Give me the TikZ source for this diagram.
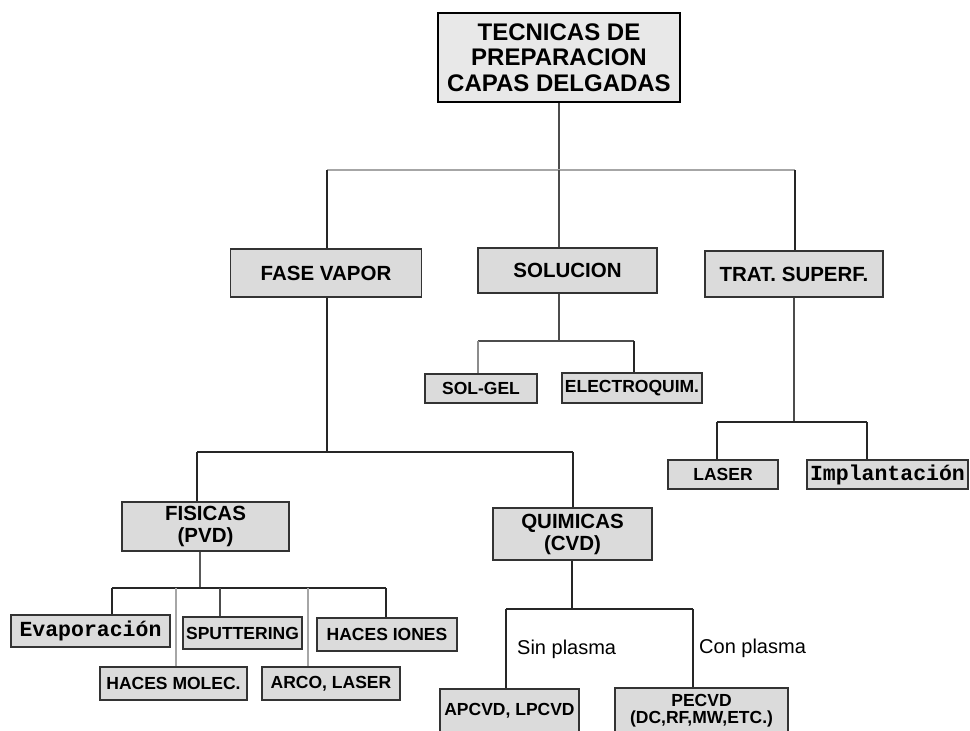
\documentclass[tikz,border=0pt]{standalone}
\usepackage{fontspec}
\setmainfont{Liberation Sans}
\newfontfamily\monob{Liberation Mono}
\begin{document}
\begin{tikzpicture}[x=1pt,y=-1pt,
  bx/.style={draw=black!80, line width=1.4pt, fill=black!14, inner sep=0pt, align=center,
             font=\bfseries\fontsize{17.5}{17.5}\selectfont},
  bxm/.style={bx, font=\bfseries\fontsize{20.5}{22}\selectfont},
  bxs/.style={bx, font=\monob\bfseries\fontsize{21.5}{22}\selectfont},
  topbox/.style={draw=black, line width=2.8pt, fill=black!9, inner sep=0pt, align=center,
             font=\bfseries\fontsize{24}{25.5}\selectfont},
  ln/.style={draw=black!85, line width=1.3pt},
  lg/.style={draw=black!35, line width=1.8pt},
  lbl/.style={inner sep=0pt, anchor=west, font=\fontsize{20}{20}\selectfont}]
\useasboundingbox (0,0) rectangle (970,731);
\clip (0,0) rectangle (970,731);
\fill[white] (0,0) rectangle (970,731);

% nodes
\node[topbox, minimum width=242pt, minimum height=89pt] (top) at (559,57.5) {TECNICAS DE\\PREPARACION\\CAPAS DELGADAS};
\node[bxm, minimum width=191pt, minimum height=48pt] (fase) at (326,273) {FASE VAPOR};
\node[bxm, minimum width=179pt, minimum height=45pt] (sol) at (567.5,270.5) {SOLUCION};
\node[bxm, minimum width=178pt, minimum height=46pt] (trat) at (794,274) {TRAT. SUPERF.};
\node[bx, minimum width=112pt, minimum height=29pt] (solgel) at (481,388.5) {SOL-GEL};
\node[bx, minimum width=140pt, minimum height=30pt] (electro) at (632,388) {ELECTROQUIM.};
\node[bx, minimum width=110pt, minimum height=29pt] (laser) at (723,474.5) {LASER};
\node[bxs, minimum width=161pt, minimum height=29pt] (impl) at (887.5,474.5) {Implantación};
\node[bxm, minimum width=167pt, minimum height=49pt] (fis) at (205.5,526.5) {FISICAS\\(PVD)};
\node[bxm, minimum width=159pt, minimum height=52pt] (quim) at (572.5,534) {QUIMICAS\\(CVD)};
\node[bxs, minimum width=159pt, minimum height=32pt] (evap) at (90.5,631) {Evaporación};
\node[bx, minimum width=119pt, minimum height=32pt] (sput) at (242.5,633) {SPUTTERING};
\node[bx, minimum width=140pt, minimum height=33pt] (iones) at (387,634.5) {HACES IONES};
\node[bx, minimum width=147pt, minimum height=33pt] (molec) at (173.5,683.5) {HACES MOLEC.};
\node[bx, minimum width=138pt, minimum height=33pt] (arco) at (331,683.5) {ARCO, LASER};
\node[bx, minimum width=139pt, minimum height=44pt] (apcvd) at (509.5,711) {APCVD, LPCVD};
\node[bx, minimum width=173pt, minimum height=45pt] (pecvd) at (701.5,710.5) {PECVD\\(DC,RF,MW,ETC.)};

% level 1
\coordinate (j0) at (559,170);
\coordinate (jL) at (327,170);
\coordinate (jR) at (795,170);
\draw[ln, draw=black!70] (top.south) -- (j0);
\draw[lg] (jL) -- (jR);
\draw[ln] (jL) -- (jL |- fase.north);
\draw[ln, draw=black!70] (j0) -- (j0 |- sol.north);
\draw[ln] (jR) -- (jR |- trat.north);

% solucion
\coordinate (s0) at (559,341);
\coordinate (sL) at (478,341);
\coordinate (sR) at (634,341);
\draw[ln, draw=black!70] (sol.south -| s0) -- (s0);
\draw[ln, draw=black!70] (sL) -- (sR);
\draw[ln, draw=black!45] (sL) -- (sL |- solgel.north);
\draw[ln] (sR) -- (sR |- electro.north);

% trat. superf.
\coordinate (t0) at (794,422);
\coordinate (tL) at (717,422);
\coordinate (tR) at (867,422);
\draw[ln, draw=black!70] (trat.south -| t0) -- (t0);
\draw[ln] (tL) -- (tR);
\draw[ln] (tL) -- (tL |- laser.north);
\draw[ln] (tR) -- (tR |- impl.north);

% fase vapor
\coordinate (f0) at (327,452);
\coordinate (fL) at (197,452);
\coordinate (fR) at (573,452);
\draw[ln] (fase.south -| f0) -- (f0);
\draw[ln] (fL) -- (fR);
\draw[ln] (fL) -- (fL |- fis.north);
\draw[ln] (fR) -- (fR |- quim.north);

% fisicas
\coordinate (p0) at (200,588);
\coordinate (pA) at (112,588);
\coordinate (pB) at (176,588);
\coordinate (pC) at (220,588);
\coordinate (pD) at (308,588);
\coordinate (pE) at (386,588);
\draw[ln, draw=black!65] (fis.south -| p0) -- (p0);
\draw[ln] (pA) -- (pE);
\draw[ln] (pA) -- (pA |- evap.north);
\draw[lg] (pB) -- (pB |- molec.north);
\draw[ln, draw=black!70] (pC) -- (pC |- sput.north);
\draw[lg] (pD) -- (pD |- arco.north);
\draw[ln] (pE) -- (pE |- iones.north);

% quimicas
\coordinate (q0) at (572,609);
\coordinate (qL) at (506,609);
\coordinate (qR) at (693,609);
\draw[ln] (quim.south -| q0) -- (q0);
\draw[ln] (qL) -- (qR);
\draw[ln] (qL) -- (qL |- apcvd.north);
\draw[ln] (qR) -- (qR |- pecvd.north);

\node[lbl] (sinp) at (517,649) {Sin plasma};
\node[lbl] (conp) at (699,648) {Con plasma};
\end{tikzpicture}
\end{document}
